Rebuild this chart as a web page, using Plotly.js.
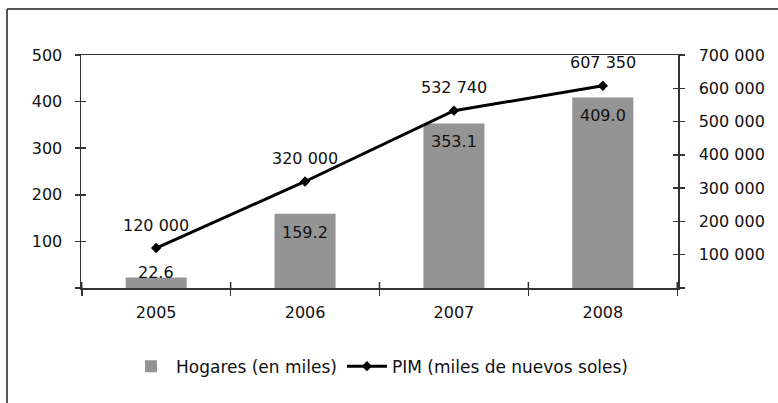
<!DOCTYPE html>
<html>
<head>
<meta charset="utf-8">
<script src="https://cdn.plot.ly/plotly-3.0.1.min.js"></script>
<style>
html,body{margin:0;padding:0;background:#fff;}
#chart{width:778px;height:403px;}
</style>
</head>
<body>
<div id="chart"></div>
<script>
const years = ['2005', '2006', '2007', '2008'];
const hogares = [22.6, 159.2, 353.1, 409.0];
const hogaresText = ['22.6', '159.2', '353.1', '409.0'];
const pim = [120000, 320000, 532740, 607350];
const pimText = ['120 000', '320 000', '532 740', '607 350'];
const leftTicks = [0, 100, 200, 300, 400, 500];
const leftTickText = ['', '100', '200', '300', '400', '500'];
const rightTicks = [0, 100000, 200000, 300000, 400000, 500000, 600000, 700000];
const rightTickText = ['', '100 000', '200 000', '300 000', '400 000', '500 000', '600 000', '700 000'];
const nameBars = 'Hogares (en miles)';
const nameLine = 'PIM (miles de nuevos soles)';

const FONT = 'DejaVu Sans, sans-serif';
const TXT = '#111111';
const AX = '#333333';

const traces = [
  {
    type: 'bar', x: years, y: hogares, name: nameBars,
    marker: {color: '#949494'}, xaxis: 'x', yaxis: 'y', hoverinfo: 'skip'
  },
  {
    type: 'scatter', mode: 'lines+markers', x: years, y: pim, name: nameLine,
    line: {color: '#000000', width: 3}, marker: {symbol: 'diamond', size: 8, color: '#000000'},
    xaxis: 'x', yaxis: 'y2', hoverinfo: 'skip'
  },
  // helpers so the inner half of the crossing y ticks is drawn
  {type: 'scatter', mode: 'markers', x: years, y: hogares, xaxis: 'x', yaxis: 'y3',
   marker: {opacity: 0}, showlegend: false, hoverinfo: 'skip'},
  {type: 'scatter', mode: 'markers', x: years, y: pim, xaxis: 'x', yaxis: 'y4',
   marker: {opacity: 0}, showlegend: false, hoverinfo: 'skip'}
];

// annotations on a category axis take the category index
const annotations = [];
years.forEach((yr, i) => {
  const small = hogares[i] < 50;
  annotations.push({
    x: i, y: hogares[i], xref: 'x', yref: 'y', text: hogaresText[i], showarrow: false,
    yanchor: small ? 'middle' : 'top', yshift: small ? 5 : -7,
    font: {family: FONT, size: 16, color: TXT}
  });
  annotations.push({
    x: i, y: pim[i], xref: 'x', yref: 'y2', text: pimText[i], showarrow: false,
    yanchor: 'middle', yshift: 23,
    font: {family: FONT, size: 16, color: TXT}
  });
});

// inner half of the crossing x ticks at the category boundaries
const shapes = [];
for (let i = 0; i <= years.length; i++) {
  shapes.push({type: 'line', xref: 'x', yref: 'paper', x0: i - 0.5, x1: i - 0.5, y0: 0, y1: 0.026,
               line: {color: AX, width: 1.5}});
}
shapes.push({type: 'line', xref: 'paper', yref: 'paper', x0: -0.124, x1: 1.3, y0: 1.197, y1: 1.197,
             line: {color: '#555555', width: 2}});
shapes.push({type: 'line', xref: 'paper', yref: 'paper', x0: -0.124, x1: -0.124, y0: 1.197, y1: -0.6,
             line: {color: '#555555', width: 2}});

const baseY = {showgrid: false, zeroline: false, fixedrange: true};

const layout = {
  width: 778, height: 403,
  margin: {l: 81, r: 100, t: 55, b: 115},
  paper_bgcolor: '#ffffff', plot_bgcolor: '#ffffff',
  font: {family: FONT, size: 16, color: TXT},
  showlegend: true,
  legend: {orientation: 'h', x: 0.5, xanchor: 'center', y: -0.26, yanchor: 'top',
           font: {family: FONT, size: 17, color: TXT}, itemwidth: 40},
  bargap: 0.59,
  xaxis: {
    type: 'category', showgrid: false, zeroline: false, showline: true, linecolor: AX, linewidth: 1.5,
    mirror: true, ticks: 'outside', ticklen: 6, tickwidth: 1.5, tickcolor: AX, tickson: 'boundaries',
    ticklabelstandoff: 9, fixedrange: true, tickangle: 0
  },
  yaxis: Object.assign({}, baseY, {
    range: [0, 500], side: 'left', showline: true, linecolor: AX, linewidth: 1.5,
    tickvals: leftTicks, ticktext: leftTickText, ticks: 'outside', ticklen: 5, tickwidth: 1.5,
    tickcolor: AX, ticklabelstandoff: 9
  }),
  yaxis3: Object.assign({}, baseY, {
    range: [0, 500], side: 'left', overlaying: 'y', showline: false,
    tickvals: leftTicks, ticks: 'inside', ticklen: 5, tickwidth: 1.5, tickcolor: AX,
    showticklabels: false
  }),
  yaxis2: Object.assign({}, baseY, {
    range: [0, 700000], side: 'right', overlaying: 'y', showline: true, linecolor: AX, linewidth: 1.5,
    tickvals: rightTicks, ticktext: rightTickText, ticks: 'outside', ticklen: 5, tickwidth: 1.5,
    tickcolor: AX, ticklabelstandoff: 11
  }),
  yaxis4: Object.assign({}, baseY, {
    range: [0, 700000], side: 'right', overlaying: 'y', showline: false,
    tickvals: rightTicks, ticks: 'inside', ticklen: 5, tickwidth: 1.5, tickcolor: AX,
    showticklabels: false
  }),
  annotations: annotations,
  shapes: shapes
};

Plotly.newPlot('chart', traces, layout, {displayModeBar: false, staticPlot: true});
</script>
</body>
</html>
